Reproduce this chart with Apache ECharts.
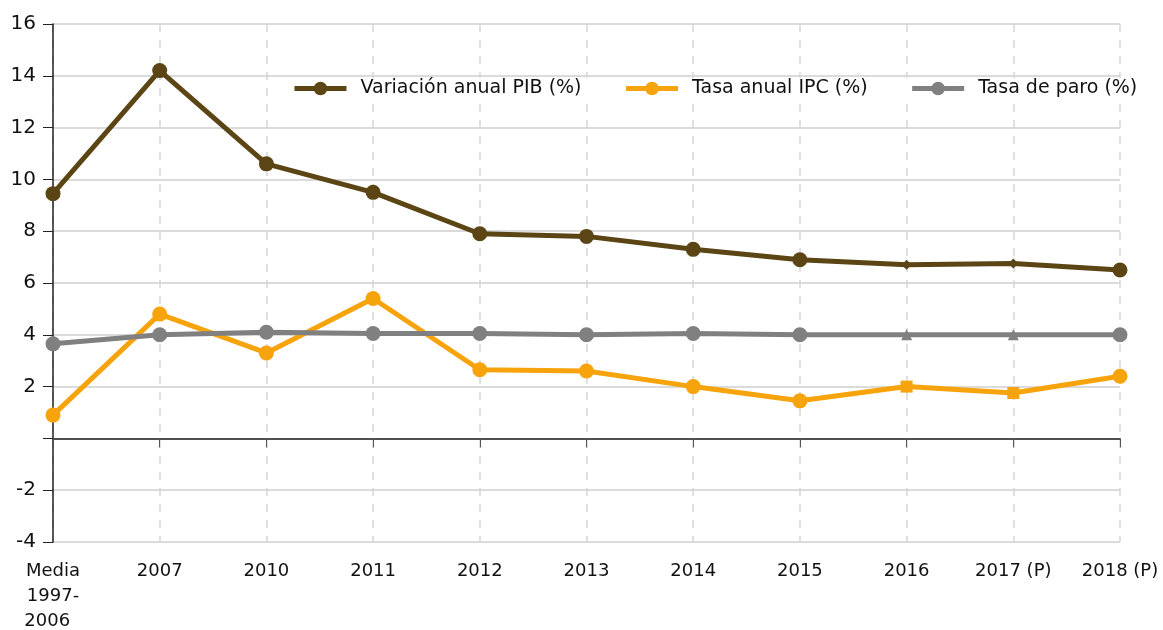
<!DOCTYPE html>
<html>
<head>
<meta charset="utf-8">
<script src="https://cdn.jsdelivr.net/npm/echarts@6/dist/echarts.min.js"></script>
<style>
  html, body { margin: 0; padding: 0; background: #fff; }
  #chart { width: 1163px; height: 630px; }
</style>
</head>
<body>
<div id="chart"></div>
<script>
// categorias y series
const categories = ["Media\n1997-\n2006  ", "2007", "2010", "2011", "2012", "2013", "2014", "2015", "2016", "2017 (P)", "2018 (P)"];
const pib = [9.45, 14.2, 10.6, 9.5, 7.9, 7.8, 7.3, 6.9, 6.7, 6.75, 6.5];
const ipc = [0.9, 4.8, 3.3, 5.4, 2.65, 2.6, 2.0, 1.45, 2.0, 1.75, 2.4];
const paro = [3.65, 4.0, 4.1, 4.05, 4.05, 4.0, 4.05, 4.0, 4.0, 4.0, 4.0];
const yTicks = [-4, -2, 0, 2, 4, 6, 8, 10, 12, 14, 16];

const font = "DejaVu Sans";
const chart = echarts.init(document.getElementById("chart"));

// simbolo distinto para 2016 y 2017 (P)
function points(values, altSymbol, altSize) {
  return values.map((v, i) => {
    if (i === 8 || i === 9) {
      return { value: v, symbol: altSymbol, symbolSize: altSize };
    }
    return v;
  });
}

function lineSeries(name, values, color, altSymbol, altSize) {
  return {
    name: name,
    type: "line",
    data: points(values, altSymbol, altSize),
    symbol: "circle",
    symbolSize: 15,
    showSymbol: true,
    lineStyle: { width: 5, color: color },
    itemStyle: { color: color },
    emphasis: { disabled: true }
  };
}

const option = {
  animation: false,
  backgroundColor: "#fff",
  textStyle: { fontFamily: font },
  color: ["#5c4515", "#f7a30c", "#808080"],
  legend: {
    top: 78,
    left: 286,
    itemWidth: 52,
    itemHeight: 17,
    itemGap: 42,
    backgroundColor: "#fff",
    padding: [1, 6],
    lineStyle: { width: 5 },
    textStyle: { fontSize: 19, color: "#111", fontFamily: font, padding: [0, 0, 0, 9] },
    data: ["Variación anual PIB (%)", "Tasa anual IPC (%)", "Tasa de paro (%)"]
  },
  grid: { left: 53, right: 43, top: 24, bottom: 88, containLabel: false, outerBoundsMode: "none" },
  xAxis: [
    {
      type: "category",
      data: categories,
      boundaryGap: false,
      position: "bottom",
      axisLine: { show: false, onZero: false },
      axisTick: { show: false },
      axisLabel: {
        color: "#111",
        fontSize: 18,
        fontFamily: font,
        margin: 17,
        lineHeight: 25,
        verticalAlign: "top"
      },
      splitLine: { show: true, lineStyle: { color: "#d6d6d6", type: [8, 8], width: 1.5 } }
    },
    {
      type: "category",
      data: categories,
      boundaryGap: false,
      position: "bottom",
      axisLine: { show: true, onZero: true, lineStyle: { color: "#222", width: 1.5 } },
      axisTick: { show: true, inside: false, length: 9, alignWithLabel: true, lineStyle: { color: "#555" } },
      axisLabel: { show: false },
      splitLine: { show: false }
    }
  ],
  yAxis: {
    type: "value",
    min: yTicks[0],
    max: yTicks[yTicks.length - 1],
    interval: 2,
    axisLine: { show: true, lineStyle: { color: "#222", width: 1.5 } },
    axisTick: { show: true, length: 10, lineStyle: { color: "#222" } },
    axisLabel: {
      color: "#111",
      fontSize: 20,
      fontFamily: font,
      margin: 17,
      formatter: v => (v === 0 ? "" : String(v))
    },
    splitLine: { show: true, lineStyle: { color: "#cfcfcf", width: 1.5 } }
  },
  series: [
    lineSeries("Variación anual PIB (%)", pib, "#5c4515", "diamond", 10),
    lineSeries("Tasa anual IPC (%)", ipc, "#f7a30c", "rect", 12),
    lineSeries("Tasa de paro (%)", paro, "#808080", "triangle", 11)
  ]
};

chart.setOption(option);
</script>
</body>
</html>
